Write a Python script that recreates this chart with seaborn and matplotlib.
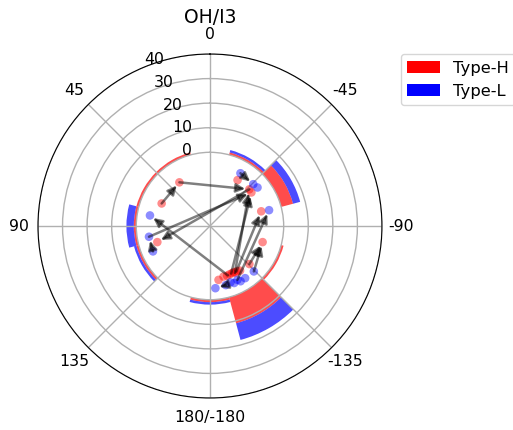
import numpy as np
import matplotlib
matplotlib.use("Agg")
import matplotlib.pyplot as plt
import seaborn as sns
from matplotlib.patches import Patch

# Histogram of dihedral angles (30 degree bins) for the two types
bin_centers_deg = [0, 30, 60, 90, 120, 150, 180, -150, -120, -90, -60, -30]
type_h_counts = [0, 1, 1, 1, 1, 0, 1, 11, 1, 0, 5, 1]
type_l_counts = [0, 0, 0, 3, 1, 0, 1, 7, 0, 0, 3, 1]
bin_width_deg = 30

# Individual angles, drawn inside the inner ring
type_h_theta = [35, 65, 107, -31, -47, -51, -74, -107, -134,
                -171, -165, -161, -158, -155, -153, -151, -149, -146]
type_h_r = [-8.3, -8.3, -7.6, -8.2, -8.1, -8.3, -8.3, -7.6, -7.7,
            -7.8, -8.7, -8.6, -8.8, -8.8, -8.9, -8.4, -8.6, -8.1]
type_l_theta = [-30, -46, -51, -75, 80, 100, 114, -136, -175,
                -165, -160, -157, -153, -151, -146]
type_l_r = [-5.2, -5.5, -5.1, -5.1, -5.2, -4.8, -4.6, -4.3, -4.6,
            -5.1, -5.6, -4.8, -5.4, -4.3, -4.4]

# Transitions between states
arrow_start_theta = [65, 35, -47, 100, -160, -156, -152, -150, -153, -134, -136, -30, 114, -165]
arrow_start_r = [-8.3, -8.3, -8.1, -4.8, -8.6, -8.8, -8.4, -8.6, -5.4, -7.7, -4.3, -5.2, -4.6, -5.1]
arrow_end_theta = [35, -47, 107, -51, 80, -51, -47, -74, -75, -107, -107, -46, 100, -175]
arrow_end_r = [-8.3, -8.1, -7.6, -8.3, -5.2, -8.3, -8.1, -8.3, -5.1, -7.6, -7.6, -5.5, -4.8, -4.6]

theta_tick_deg = [0, 45, 90, 135, 180, 225, 270, 315]
theta_tick_labels = ["0", "45", "90", "135", "180/-180", "-135", "-90", "-45"]
r_ticks = [0, 10, 20, 30, 40]

fig = plt.figure(figsize=(5.13, 4.30), dpi=100)
ax = fig.add_axes([0.074, 0.0744, 0.6706, 0.8], projection="polar")
ax.set_theta_zero_location("N")
ax.set_theta_direction(1)

centers = np.deg2rad(bin_centers_deg)
width = np.deg2rad(bin_width_deg)
ax.bar(centers, type_h_counts, width=width, bottom=0, color="red",
       alpha=0.7, linewidth=0)
ax.bar(centers, type_l_counts, width=width, bottom=type_h_counts,
       color="blue", alpha=0.7, linewidth=0)

sns.scatterplot(x=np.deg2rad(type_h_theta), y=type_h_r, color="red",
                alpha=0.45, s=38, edgecolor="none", ax=ax, zorder=3)
sns.scatterplot(x=np.deg2rad(type_l_theta), y=type_l_r, color="blue",
                alpha=0.45, s=38, edgecolor="none", ax=ax, zorder=3)

for ts, rs, te, re in zip(arrow_start_theta, arrow_start_r,
                          arrow_end_theta, arrow_end_r):
    ax.annotate("", xy=(np.deg2rad(te), re), xytext=(np.deg2rad(ts), rs),
                arrowprops=dict(arrowstyle="-|>", color="black", alpha=0.5,
                                lw=1.8, mutation_scale=13,
                                shrinkA=0, shrinkB=3),
                zorder=4, annotation_clip=False)

ax.set_ylim(-30, 40)
ax.set_yticks(r_ticks)
ax.set_xticks(np.deg2rad(theta_tick_deg))
ax.set_xticklabels(theta_tick_labels)
ax.tick_params(axis="both", labelsize=11.3)
ax.grid(True, color="#b0b0b0", linewidth=1)

ax.set_title("OH/I3", fontsize=13.5, y=1.09, pad=0)

handles = [Patch(facecolor="red", label="Type-H"),
           Patch(facecolor="blue", label="Type-L")]
ax.legend(handles=handles, loc="upper left", fontsize=11.8,
          bbox_to_anchor=(0.781, 0.8744), bbox_transform=fig.transFigure,
          borderaxespad=0)

fig.savefig("out.png", dpi=100)
